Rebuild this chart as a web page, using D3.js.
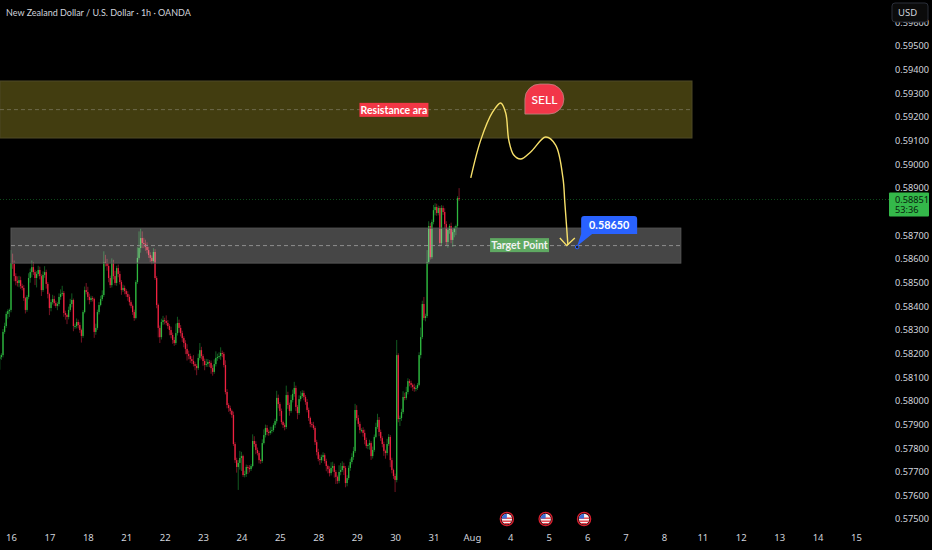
<!DOCTYPE html>
<html>
<head>
<meta charset="utf-8">
<script src="https://d3js.org/d3.v7.min.js"></script>
<style>
  html, body { margin: 0; padding: 0; background: #000; overflow: hidden; }
  text { font-family: Lato, sans-serif; }
  .axis text { fill: #d1d4dc; font-size: 9.2px; font-family: "Noto Sans", sans-serif; }
  .x-axis text { font-size: 9.5px; }
  .axis .domain { display: none; }
</style>
</head>
<body>
<svg id="chart" width="932" height="550"></svg>
<script>
// hourly closes, in 0.00001 units (first candle sits 7h before the "16" tick)
const closes = [
  58185,58193,58291,58316,58367,58379,58384,58582,58578,58527,58506,58498,58510,58485,58477,58434,58384,58439,58519,58544,58565,58544,58519,58536,
  58553,58527,58468,58532,58544,58494,58451,58392,58417,58430,58413,58401,58409,58439,58451,58456,58371,58363,58354,58384,58409,58426,58316,58316,
  58333,58320,58299,58274,58375,58468,58460,58439,58426,58434,58430,58291,58308,58375,58405,58430,58447,58587,58582,58570,58519,58489,58582,58527,
  58498,58561,58536,58502,58468,58477,58464,58451,58439,58417,58401,58375,58350,58502,58604,58646,58688,58667,58663,58650,58637,58616,58604,58591,
  58629,58519,58405,58308,58269,58333,58341,58337,58329,58316,58299,58278,58257,58244,58286,58329,58308,58286,58265,58244,58219,58198,58189,58176,
  58168,58155,58147,58138,58181,58214,58189,58168,58151,58155,58164,58160,58138,58122,58155,58181,58185,58189,58202,58198,58151,58037,57982,57969,
  57957,57940,57817,57749,57720,57737,57758,57766,57686,57690,57720,57716,57711,57724,57830,57817,57792,57779,57749,57745,57821,57855,57885,57868,
  57864,57872,57876,57897,57914,58012,57986,57957,57910,57897,57889,58024,57982,57957,58003,58029,58054,57974,57948,58007,58020,58033,58016,57995,
  57961,57927,57902,57897,57885,57825,57783,57754,57749,57762,57770,57745,57724,57711,57694,57716,57724,57699,57678,57661,57699,57707,57724,57716,
  57652,57673,57716,57741,57762,57787,57961,57927,57902,57876,57876,57864,57834,57809,57813,57821,57766,57792,57847,57889,57919,57868,57842,57817,
  57787,57779,57817,57847,57749,57707,57682,57665,58193,57923,57927,57952,58016,58012,58037,58083,58075,58067,58058,58050,58054,58067,58193,58269,
  58409,58350,58358,58587,58739,58607,58756,58806,58819,58794,58815,58667,58815,58798,58747,58671,58722,58739,58680,58713,58730,58739,58857,58851
];
// wick above the body top, same units
const wickUp = [
  10,8,12,14,10,8,6,55,40,15,12,20,18,15,10,12,5,8,20,15,28,22,10,12,
  18,14,8,15,25,10,8,6,12,18,14,10,8,15,20,30,8,10,6,14,22,28,6,10,
  15,10,12,6,8,15,30,22,14,10,8,6,18,10,12,14,20,45,30,18,12,10,20,14,
  22,10,15,12,8,14,10,8,12,10,8,6,10,8,45,70,40,28,22,18,20,14,12,10,
  16,12,8,6,10,14,18,10,24,12,8,14,10,12,40,26,14,12,10,8,12,20,14,10,
  12,25,10,8,18,30,14,8,10,22,12,8,10,12,20,28,14,16,24,10,8,20,12,8,
  10,6,14,8,10,12,30,18,6,14,10,8,12,8,28,20,12,10,8,6,16,24,14,12,
  10,18,14,8,10,30,14,8,10,6,8,40,14,10,22,18,26,10,8,16,20,12,10,8,
  12,10,6,8,14,8,10,14,18,10,12,8,10,6,12,24,18,10,8,6,28,30,20,14,
  8,12,10,14,16,18,26,20,12,10,8,12,14,10,6,14,8,14,10,18,26,12,10,8,
  10,6,22,12,8,10,6,10,64,8,10,14,24,18,22,12,8,10,6,14,10,8,12,40,
  14,30,10,50,20,12,10,22,16,14,10,8,12,10,16,12,10,8,14,10,8,6,8,42
];
// wick below the body bottom, same units
const wickDn = [
  46,12,10,8,8,20,25,10,20,22,18,15,18,12,10,12,15,8,10,20,22,12,30,40,
  10,14,25,8,12,20,18,30,14,10,12,8,18,10,12,8,16,20,30,10,8,14,22,12,
  10,14,12,28,8,6,10,14,18,8,10,25,12,8,10,6,8,8,14,20,18,12,10,14,
  10,12,14,10,20,8,14,12,16,14,10,12,12,6,8,8,20,22,18,16,14,12,18,14,
  10,8,14,40,25,10,12,14,10,12,22,14,16,12,8,10,20,14,16,18,22,28,14,16,
  12,10,18,30,8,10,14,20,22,8,12,18,24,16,8,10,12,8,16,14,10,10,14,16,
  14,12,8,12,24,97,28,55,8,10,12,26,14,8,6,12,18,10,14,12,8,6,10,14,
  12,8,10,8,12,10,18,22,10,12,14,8,16,20,8,10,12,18,26,8,10,8,14,12,
  10,12,14,10,8,12,14,10,20,12,16,10,22,18,14,10,16,24,30,12,10,14,8,30,
  18,14,8,12,10,12,8,10,12,14,10,16,18,10,14,20,16,10,8,6,8,18,12,14,
  20,24,10,8,30,14,12,51,10,14,30,12,8,10,8,10,14,12,16,12,10,8,6,14,
  8,10,14,8,10,10,8,10,22,12,10,14,10,12,18,14,24,16,14,30,22,30,10,6
];

// right price scale (0.58800 sits behind the last price badge, not visible)
const priceTicks = [0.596,0.595,0.594,0.593,0.592,0.591,0.590,0.589,0.587,0.586,0.585,0.584,0.583,0.582,0.581,0.580,0.579,0.578,0.577,0.576,0.575];
// time scale, one label per trading day
const dayLabels = ['16','17','18','21','22','23','24','25','28','29','30','31','Aug','4','5','6','7','8','11','12','13','14','15'];

// yellow forecast path, drawn on the chart: day index / price
const pathDays   = [11.97,12.23,12.54,12.75,12.88,12.96,13.09,13.27,13.53,13.92,14.18,14.37,14.42,14.50];
const pathPrices = [0.58942,0.59102,0.59221,0.59259,0.59217,0.59102,0.59039,0.59022,0.59052,0.59115,0.59081,0.58942,0.58836,0.58658];
const headDays   = [14.29,14.47,14.68];
const headPrices = [0.58688,0.58656,0.58688];

// zones: [first day, last day, top price, bottom price, mid price]
const resistanceZone = [-0.287,17.73,0.59352,0.59111,0.59231];
const supportZone = [0,17.44,0.58730,0.58582,0.58656];

const lastPrice = 0.58851;
const countdown = '53:36';
const targetPrice = 0.5865;
const newsDays = [12.91,13.92,14.92];

const width = 932, height = 550;

const xScale = d3.scaleLinear().domain([0, 22]).range([11, 856]);
const yScale = d3.scaleLinear().domain([0.575, 0.595]).range([519, 46]);

const svg = d3.select('#chart');
svg.append('rect').attr('width', width).attr('height', height).attr('fill', '#000');

// candles
const candles = closes.map((c, i) => {
  const close = c / 1e5;
  const open = (i ? closes[i - 1] : c - 8) / 1e5;
  return {
    day: (i - 7) / 24,
    open, close,
    high: Math.max(open, close) + wickUp[i] / 1e5,
    low: Math.min(open, close) - wickDn[i] / 1e5
  };
});

const candleG = svg.append('g').attr('class', 'candles');
candleG.selectAll('line.wick')
  .data(candles)
  .join('line')
  .attr('class', 'wick')
  .attr('x1', d => xScale(d.day))
  .attr('x2', d => xScale(d.day))
  .attr('y1', d => yScale(d.high))
  .attr('y2', d => yScale(d.low))
  .attr('stroke', d => d.close >= d.open ? '#125a20' : '#741424')
  .attr('stroke-width', 1);

candleG.selectAll('rect.body')
  .data(candles)
  .join('rect')
  .attr('class', 'body')
  .attr('x', d => xScale(d.day) - 0.65)
  .attr('width', 1.3)
  .attr('y', d => yScale(Math.max(d.open, d.close)))
  .attr('height', d => Math.max(1, Math.abs(yScale(d.open) - yScale(d.close))))
  .attr('fill', d => d.close >= d.open ? '#2fb83f' : '#ee2140');

// zones go over the candles, they are translucent
function drawZone(z, fill, stroke, midStroke) {
  svg.append('rect')
    .attr('x', xScale(z[0]))
    .attr('y', yScale(z[2]))
    .attr('width', xScale(z[1]) - xScale(z[0]))
    .attr('height', yScale(z[3]) - yScale(z[2]))
    .attr('fill', fill)
    .attr('stroke', stroke);
  svg.append('line')
    .attr('x1', xScale(z[0]))
    .attr('x2', xScale(z[1]))
    .attr('y1', yScale(z[4]))
    .attr('y2', yScale(z[4]))
    .attr('stroke', midStroke)
    .attr('stroke-dasharray', '4 3');
}
drawZone(resistanceZone, 'rgba(170,158,40,0.39)', '#4e4a26', '#6d6a4c');
drawZone(supportZone, 'rgba(255,255,255,0.275)', '#555', '#8f8f8f');

// last price line
svg.append('line')
  .attr('x1', 0).attr('x2', 889)
  .attr('y1', yScale(lastPrice)).attr('y2', yScale(lastPrice))
  .attr('stroke', '#0f4a1c')
  .attr('stroke-dasharray', '1 2');

// axes
const yAxis = d3.axisRight(yScale).tickValues(priceTicks).tickFormat(d3.format('.5f')).tickSize(0).tickPadding(0);
svg.append('g').attr('class', 'axis y-axis').attr('transform', 'translate(895,0)').call(yAxis);

const xAxis = d3.axisBottom(xScale)
  .tickValues(d3.range(dayLabels.length))
  .tickFormat(i => dayLabels[i])
  .tickSize(0).tickPadding(0);
svg.append('g').attr('class', 'axis x-axis').attr('transform', 'translate(0,534)').call(xAxis);

// USD button covers the top tick
svg.append('rect').attr('x', 892).attr('y', 3).attr('width', 36).attr('height', 19).attr('rx', 3)
  .attr('fill', '#0b0b0b').attr('stroke', '#2a2e39');
svg.append('text').attr('x', 898).attr('y', 16).attr('fill', '#d1d4dc').attr('font-size', 9.5)
  .style('font-family', '"Noto Sans", sans-serif').text('USD');

// last price badge
const badgeY = yScale(lastPrice);
svg.append('rect').attr('x', 889).attr('y', badgeY - 7).attr('width', 40).attr('height', 24).attr('rx', 1).attr('fill', '#34b84a');
svg.append('text').attr('x', 895).attr('y', badgeY + 3.5).attr('fill', '#07210c').attr('font-size', 9.2)
  .style('font-family', '"Noto Sans", sans-serif').text(d3.format('.5f')(lastPrice));
svg.append('text').attr('x', 895).attr('y', badgeY + 14).attr('fill', '#07210c').attr('font-size', 9.2)
  .style('font-family', '"Noto Sans", sans-serif').text(countdown);

// title
svg.append('text').attr('x', 6).attr('y', 15.5).attr('fill', '#d1d4dc').attr('font-size', 9)
  .text('New Zealand Dollar / U.S. Dollar · 1h · OANDA');

// forecast curve and arrow head
const curve = d3.line()
  .x(d => xScale(d[0]))
  .y(d => yScale(d[1]))
  .curve(d3.curveCatmullRom.alpha(0.5));
svg.append('path')
  .attr('d', curve(d3.zip(pathDays, pathPrices)))
  .attr('fill', 'none').attr('stroke', '#f7e06a').attr('stroke-width', 1.4);
svg.append('path')
  .attr('d', d3.line().x(d => xScale(d[0])).y(d => yScale(d[1]))(d3.zip(headDays, headPrices)))
  .attr('fill', 'none').attr('stroke', '#f7e06a').attr('stroke-width', 1.4);

// text labels with a coloured box
function boxLabel(day, price, w, h, fill, txt, size, color) {
  const cx = xScale(day), cy = yScale(price);
  svg.append('rect').attr('x', cx - w / 2).attr('y', cy - h / 2).attr('width', w).attr('height', h).attr('fill', fill);
  svg.append('text').attr('x', cx).attr('y', cy + size * 0.36).attr('text-anchor', 'middle')
    .attr('fill', color).attr('font-size', size).attr('font-weight', 700).text(txt);
}
boxLabel(9.97, 0.5923, 69, 14, '#f23645', 'Resistance ara', 10.5, '#fff');
boxLabel(13.24, 0.58658, 59, 14, '#5fa962', 'Target Point', 10.5, '#f2f2f2');

// SELL bubble, sharp corner bottom left
const sx = xScale(13.38), sy = yScale(0.59339);
svg.append('path')
  .attr('d', `M${sx},${sy + 30} V${sy + 15} A15,15 0 0 1 ${sx + 15},${sy} H${sx + 24} A15,15 0 0 1 ${sx + 39},${sy + 15} A15,15 0 0 1 ${sx + 24},${sy + 30} Z`)
  .attr('fill', '#f23649').attr('stroke', '#b98a86').attr('stroke-width', 0.8);
svg.append('text').attr('x', sx + 19.5).attr('y', sy + 19.5).attr('text-anchor', 'middle')
  .attr('fill', '#fff').attr('font-size', 12).attr('font-weight', 500).text('SELL');

// blue price callout with its anchor dot
const ax = xScale(14.74), ay = yScale(targetPrice);
svg.append('path')
  .attr('d', `M${ax + 4},${ay - 28} a3,3 0 0 1 3,-3 H${ax + 57} a3,3 0 0 1 3,3 V${ay - 13} H${ax + 15} L${ax},${ay - 1} L${ax + 4},${ay - 13} Z`)
  .attr('fill', '#2962ff');
svg.append('circle').attr('cx', ax).attr('cy', ay).attr('r', 1.8)
  .attr('fill', '#222').attr('stroke', '#2962ff').attr('stroke-width', 1);
svg.append('text').attr('x', ax + 32).attr('y', ay - 18).attr('text-anchor', 'middle')
  .attr('fill', '#fff').attr('font-size', 10.8).attr('font-weight', 700).text(d3.format('.5f')(targetPrice));

// economic calendar flags
const defs = svg.append('defs');
defs.append('clipPath').attr('id', 'flagClip').append('circle').attr('r', 5.2);
const flags = svg.selectAll('g.flag').data(newsDays).join('g')
  .attr('class', 'flag')
  .attr('transform', d => `translate(${xScale(d)},519)`);
flags.append('circle').attr('r', 6.6).attr('fill', '#1a0508').attr('stroke', '#d81f2e').attr('stroke-width', 1.3);
const inner = flags.append('g').attr('clip-path', 'url(#flagClip)');
inner.append('rect').attr('x', -6).attr('y', -6).attr('width', 12).attr('height', 12).attr('fill', '#f4f4f4');
inner.selectAll('rect.stripe').data([-1.5, 1.5, 4]).join('rect')
  .attr('class', 'stripe').attr('x', -6).attr('y', d => d).attr('width', 12).attr('height', 1.4).attr('fill', '#e5404a');
inner.append('rect').attr('x', -6).attr('y', -6).attr('width', 6).attr('height', 5.6).attr('fill', '#3d6fd6');
</script>
</body>
</html>
